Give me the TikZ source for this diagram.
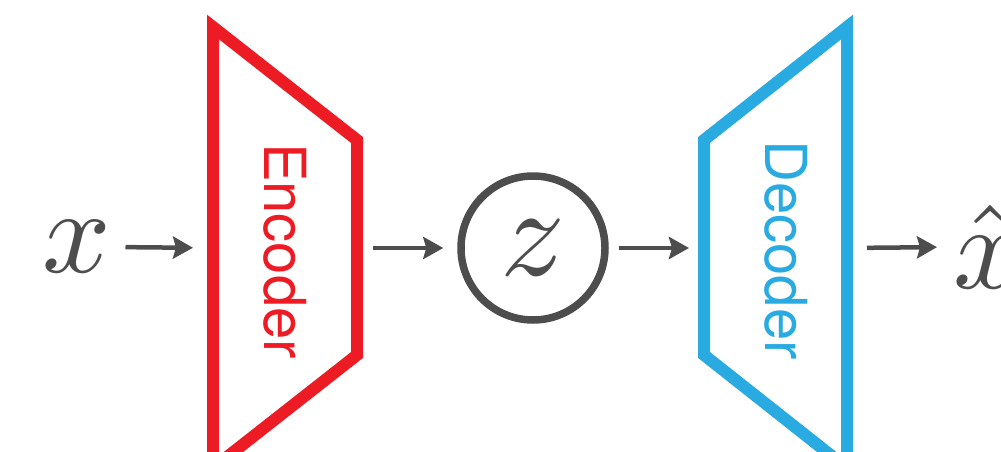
\documentclass[tikz,border=0pt]{standalone}
\usepackage{fontspec}
\setsansfont{TeX Gyre Heros}
\usetikzlibrary{arrows.meta}
\definecolor{encred}{HTML}{ED1C24}
\definecolor{decblue}{HTML}{29ABE2}
\definecolor{dgrey}{HTML}{4D4D4D}
\tikzset{
  arr/.style={draw=dgrey, line width=4.5pt, -{Stealth[length=20pt,width=22pt,inset=3pt]}},
  block/.style={line width=12pt, line join=miter, miter limit=10},
  blocklabel/.style={font=\sffamily\fontsize{58}{60}\selectfont, rotate=-90, inner sep=0pt},
  mathlbl/.style={text=dgrey, inner sep=0pt},
  latent/.style={circle, draw=dgrey, line width=7.5pt, minimum size=144pt, inner sep=0pt, text=dgrey}
}
\begin{document}
\begin{tikzpicture}[x=1pt,y=-1pt]
\clip (0,0) rectangle (1001,452);
\useasboundingbox (0,0) rectangle (1001,452);
% input
\node[mathlbl] (x) at (77,247) {\scalebox{12}{$x$}};
% encoder
\draw[block, draw=encred] (213,27) -- (357,140) -- (357,355) -- (213,468) -- cycle;
\coordinate (encL) at (213,248);
\coordinate (encR) at (357,248);
\node[blocklabel, text=encred] (enclbl) at (285,251) {Encoder};
% latent
\node[latent] (z) at (533,248) {\scalebox{12.8}{$z$}};
% decoder
\draw[block, draw=decblue] (704,140) -- (847,27) -- (847,468) -- (704,355) -- cycle;
\coordinate (decL) at (704,248);
\coordinate (decR) at (847,248);
\node[blocklabel, text=decblue] (declbl) at (786,250) {Decoder};
% output
\node[mathlbl, anchor=west] (xhat) at (953,247) {\scalebox{12}{$\hat{x}$}};
% connectors
\draw[arr, shorten <=14pt, shorten >=20pt] (x.east) -- (encL);
\draw[arr, shorten <=16pt, shorten >=14pt] (encR) -- (z.west);
\draw[arr, shorten <=10pt, shorten >=15pt] (z.east) -- (decL);
\draw[arr, shorten <=20pt, shorten >=16pt] (decR) -- (xhat.west);
\end{tikzpicture}
\end{document}
